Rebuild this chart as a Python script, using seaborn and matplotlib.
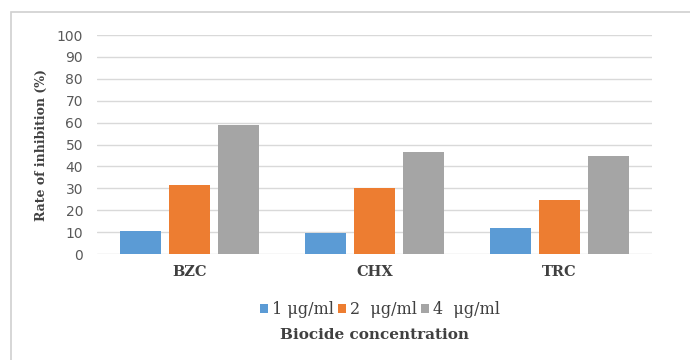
import pandas as pd
import seaborn as sns
import matplotlib.pyplot as plt

biocides = ['BZC', 'CHX', 'TRC']
conc_labels = ['1 μg/ml', '2  μg/ml', '4  μg/ml']
inhib_1 = [10.7, 9.7, 12.0]
inhib_2 = [31.3, 30.0, 24.6]
inhib_4 = [58.7, 46.8, 44.8]

df = pd.DataFrame({
    'biocide': biocides * 3,
    'conc': [conc_labels[0]] * 3 + [conc_labels[1]] * 3 + [conc_labels[2]] * 3,
    'rate': inhib_1 + inhib_2 + inhib_4,
})

palette = ['#5B9BD5', '#ED7D31', '#A5A5A5']

sns.set_style('white')
fig = plt.figure(figsize=(6.9, 3.6), dpi=100)
ax = fig.add_axes([97 / 690, 1 - 254 / 360, 555 / 690, 219 / 360])

sns.barplot(data=df, x='biocide', y='rate', hue='conc', palette=palette,
            width=0.8, gap=0.17, saturation=1, linewidth=0, ax=ax, zorder=3)

ax.set_ylim(0, 100)
ax.set_yticks(range(0, 101, 10))
ax.set_xlim(-0.5, 2.5)
ax.yaxis.grid(True, color='#d9d9d9', linewidth=1, zorder=0)
ax.set_axisbelow(True)
for s in ax.spines.values():
    s.set_visible(False)
ax.tick_params(axis='y', length=0, pad=10, labelsize=10, labelcolor='#595959')
ax.tick_params(axis='x', length=0, pad=8)
for t in ax.get_yticklabels():
    t.set_family('DejaVu Sans')
for t in ax.get_xticklabels():
    t.set_family('DejaVu Serif')
    t.set_fontweight('bold')
    t.set_fontsize(10.5)
    t.set_color('#404040')

ax.set_ylabel('Rate of inhibition (%)', family='DejaVu Serif', fontweight='bold',
              fontsize=9, color='#404040', labelpad=6)
ax.set_xlabel('Biocide concentration', family='DejaVu Serif', fontweight='bold',
              fontsize=11, color='#404040', labelpad=35)

leg = ax.legend(loc='upper center', bbox_to_anchor=(0.51, -0.15), ncol=3, frameon=False,
                handlelength=0.5, handleheight=0.5, handletextpad=0.3, columnspacing=0.2,
                prop={'family': 'DejaVu Serif', 'size': 11.5})
for t in leg.get_texts():
    t.set_color('#404040')

border = plt.Rectangle((11 / 690, -0.1), 1.2, 1 - 12 / 360 + 0.1, transform=fig.transFigure,
                       fill=False, edgecolor='#d0d0d0', linewidth=1.2)
fig.patches.append(border)

fig.savefig('out.png', dpi=100)
